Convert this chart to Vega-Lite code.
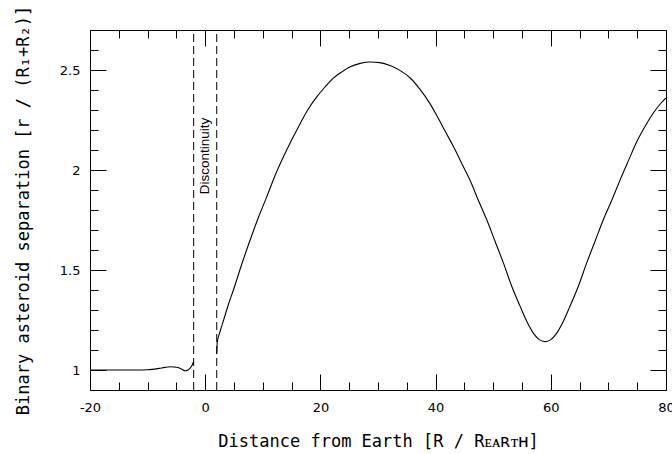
{
  "$schema": "https://vega.github.io/schema/vega-lite/v6.json",
  "width": 576,
  "height": 360,
  "autosize": {"type": "none"},
  "padding": {"left": 90, "top": 30, "right": 6, "bottom": 64},
  "background": "white",
  "config": {
    "view": {"stroke": "black", "strokeWidth": 1},
    "axis": {
      "domain": false,
      "tickWidth": 1,
      "ticks": true,
      "labelColor": "black",
      "titleColor": "black",
      "labelFont": "DejaVu Sans",
      "labelFontSize": 13,
      "titleFont": "DejaVu Sans Mono",
      "titleFontSize": 17,
      "titleFontWeight": "normal",
      "grid": false,
      "labelOverlap": false,
      "labelFlush": false,
      "labelBound": false
    },
    "axisX": {"tickColor": "black"},
    "axisY": {"tickColor": "black"}
  },
  "resolve": {"axis": {"x": "independent", "y": "independent"}},
  "layer": [
    {
      "data": {
        "values": [
          {"x": -20, "y": 1.0},
          {"x": -16, "y": 1.0},
          {"x": -12, "y": 1.0},
          {"x": -10, "y": 1.001},
          {"x": -8, "y": 1.008},
          {"x": -7, "y": 1.013},
          {"x": -6, "y": 1.016},
          {"x": -5, "y": 1.014},
          {"x": -4.5, "y": 1.01},
          {"x": -4, "y": 1.003},
          {"x": -3.5, "y": 0.996},
          {"x": -3, "y": 1.0},
          {"x": -2.6, "y": 1.01},
          {"x": -2.3, "y": 1.022},
          {"x": -2.05, "y": 1.04}
        ]
      },
      "mark": {"type": "line", "color": "black", "strokeWidth": 1.1, "interpolate": "monotone", "clip": true},
      "encoding": {
        "x": {
          "field": "x", "type": "quantitative",
          "scale": {"domain": [-20, 80], "nice": false, "zero": false},
          "axis": {
            "orient": "bottom",
            "title": "Distance from Earth [R / Rᴇᴀʀᴛʜ]",
            "titlePadding": 19,
            "values": [-20, 0, 20, 40, 60, 80],
            "tickSize": -16,
            "tickColor": "black",
            "tickOpacity": 1,
            "labelPadding": 27,
            "labelExpr": "toString(datum.value)"
          }
        },
        "y": {
          "field": "y", "type": "quantitative",
          "scale": {"domain": [0.9, 2.7], "nice": false, "zero": false},
          "axis": {
            "orient": "left",
            "title": "Binary asteroid separation [r / (R₁+R₂)]",
            "titlePadding": 27,
            "values": [1.0, 1.5, 2.0, 2.5],
            "tickSize": -16,
            "labelPadding": 26,
            "labelExpr": "format(datum.value, '~g')"
          }
        }
      }
    },
    {
      "data": {
        "values": [
          {"x": 2.0, "y": 1.08},
          {"x": 2.1, "y": 1.14},
          {"x": 2.5, "y": 1.185},
          {"x": 3.2, "y": 1.25},
          {"x": 4.0, "y": 1.325},
          {"x": 4.9, "y": 1.40},
          {"x": 6.3, "y": 1.525},
          {"x": 7.8, "y": 1.65},
          {"x": 9.2, "y": 1.76},
          {"x": 10.7, "y": 1.867},
          {"x": 12.1, "y": 1.97},
          {"x": 13.6, "y": 2.067},
          {"x": 15.0, "y": 2.15},
          {"x": 16.5, "y": 2.233},
          {"x": 17.9, "y": 2.305},
          {"x": 19.4, "y": 2.367},
          {"x": 20.8, "y": 2.415},
          {"x": 22.2, "y": 2.458},
          {"x": 23.7, "y": 2.49},
          {"x": 25.1, "y": 2.515},
          {"x": 26.9, "y": 2.533},
          {"x": 28.6, "y": 2.54},
          {"x": 30.3, "y": 2.537},
          {"x": 32.1, "y": 2.522},
          {"x": 33.8, "y": 2.498},
          {"x": 35.6, "y": 2.46},
          {"x": 37.3, "y": 2.403},
          {"x": 39.0, "y": 2.333},
          {"x": 40.2, "y": 2.272},
          {"x": 41.6, "y": 2.197},
          {"x": 43.1, "y": 2.117},
          {"x": 44.5, "y": 2.035},
          {"x": 46.0, "y": 1.947},
          {"x": 47.4, "y": 1.85},
          {"x": 48.9, "y": 1.75},
          {"x": 50.3, "y": 1.645},
          {"x": 51.8, "y": 1.533},
          {"x": 53.2, "y": 1.42},
          {"x": 54.7, "y": 1.317},
          {"x": 55.8, "y": 1.245},
          {"x": 57.0, "y": 1.183},
          {"x": 58.0, "y": 1.152},
          {"x": 59.0, "y": 1.142},
          {"x": 60.0, "y": 1.152},
          {"x": 61.0, "y": 1.183},
          {"x": 62.2, "y": 1.245},
          {"x": 63.3, "y": 1.317},
          {"x": 64.8, "y": 1.42},
          {"x": 66.2, "y": 1.533},
          {"x": 67.7, "y": 1.645},
          {"x": 69.1, "y": 1.75},
          {"x": 70.6, "y": 1.85},
          {"x": 72.0, "y": 1.948},
          {"x": 73.5, "y": 2.048},
          {"x": 74.9, "y": 2.14},
          {"x": 76.4, "y": 2.22},
          {"x": 77.8, "y": 2.285},
          {"x": 79.0, "y": 2.33},
          {"x": 80.0, "y": 2.36}
        ]
      },
      "mark": {"type": "line", "color": "black", "strokeWidth": 1.1, "interpolate": "monotone", "clip": true},
      "encoding": {
        "x": {
          "field": "x", "type": "quantitative",
          "axis": {
            "orient": "bottom",
            "title": null,
            "labels": false,
            "values": [-15, -10, -5, 5, 10, 15, 25, 30, 35, 45, 50, 55, 65, 70, 75],
            "tickSize": -8,
            "tickColor": "black"
          }
        },
        "y": {
          "field": "y", "type": "quantitative",
          "axis": {
            "orient": "left",
            "title": null,
            "labels": false,
            "values": [1.1, 1.2, 1.3, 1.4, 1.6, 1.7, 1.8, 1.9, 2.1, 2.2, 2.3, 2.4, 2.6],
            "tickSize": -8
          }
        }
      }
    },
    {
      "data": {"values": [{"x": -2}, {"x": 2}]},
      "mark": {"type": "rule", "color": "black", "strokeWidth": 1, "strokeDash": [8, 4]},
      "encoding": {
        "x": {
          "field": "x", "type": "quantitative",
          "axis": {
            "orient": "top",
            "title": null,
            "labels": false,
            "values": [-20, 0, 20, 40, 60, 80],
            "tickSize": -16,
            "tickColor": "black"
          }
        },
        "y": {
          "datum": 0.9, "type": "quantitative",
          "axis": {
            "orient": "right",
            "title": null,
            "labels": false,
            "values": [1.0, 1.5, 2.0, 2.5],
            "tickSize": -16
          }
        },
        "y2": {"datum": 2.7}
      }
    },
    {
      "data": {"values": [{"x": 0, "y": 2.07, "label": "Discontinuity"}]},
      "mark": {"type": "text", "angle": 270, "align": "center", "baseline": "middle", "font": "Liberation Sans", "fontSize": 13.5, "color": "black"},
      "encoding": {
        "x": {
          "field": "x", "type": "quantitative",
          "axis": {
            "orient": "top",
            "title": null,
            "labels": false,
            "values": [-15, -10, -5, 5, 10, 15, 25, 30, 35, 45, 50, 55, 65, 70, 75],
            "tickSize": -8,
            "tickColor": "black"
          }
        },
        "y": {
          "field": "y", "type": "quantitative",
          "axis": {
            "orient": "right",
            "title": null,
            "labels": false,
            "values": [1.1, 1.2, 1.3, 1.4, 1.6, 1.7, 1.8, 1.9, 2.1, 2.2, 2.3, 2.4, 2.6],
            "tickSize": -8
          }
        },
        "text": {"field": "label"}
      }
    }
  ]
}
